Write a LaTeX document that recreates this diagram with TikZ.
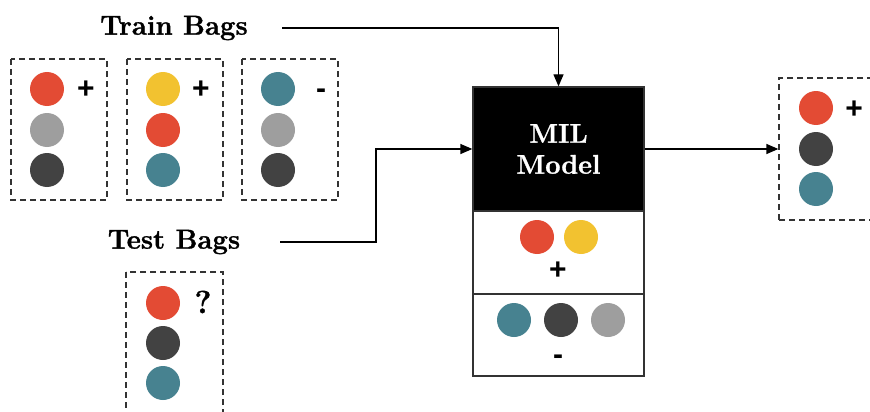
\documentclass[tikz,border=0pt]{standalone}
\usepackage{fontspec}
\newfontfamily\signfont{Liberation Sans}
\newfontfamily\heavy[BoldFeatures={FakeBold=1.2}]{Latin Modern Roman}
\usetikzlibrary{arrows.meta}
\definecolor{cred}{HTML}{E34B34}
\definecolor{cyellow}{HTML}{F2C230}
\definecolor{cteal}{HTML}{478290}
\definecolor{cgrey}{HTML}{9E9E9E}
\definecolor{cdark}{HTML}{424242}
\definecolor{edge}{HTML}{333333}
\tikzset{
  inst/.style={circle, minimum size=34pt, inner sep=0pt, draw=none},
  bagbox/.style={draw=edge, line width=1.3pt, dash pattern=on 6pt off 4pt},
  title/.style={font=\fontsize{27.5}{32}\selectfont\heavy\bfseries, inner sep=0pt},
  sign/.style={font=\fontsize{30}{34}\selectfont\signfont\bfseries, inner sep=0pt, anchor=base},
  flow/.style={draw=black, line width=1.3pt, -{Triangle[length=12pt,width=10pt]}},
}
\begin{document}
\begin{tikzpicture}[x=1pt,y=-1pt]
\useasboundingbox (0,0) rectangle (870,412);

% labels
\node[title] (trainlbl) at (174,28) {Train Bags};
\node[title] (testlbl) at (174,242) {Test Bags};

% training bags
\draw[bagbox] (11,59) rectangle (107,200);
\node[inst, fill=cred]    (a1) at (47,89)  {};
\node[inst, fill=cgrey]   (a2) at (47,130) {};
\node[inst, fill=cdark]   (a3) at (47,170) {};
\node[sign] (asign) at (86,99) {+};

\draw[bagbox] (127,59) rectangle (223,200);
\node[inst, fill=cyellow] (b1) at (163,89)  {};
\node[inst, fill=cred]    (b2) at (163,130) {};
\node[inst, fill=cteal]   (b3) at (163,170) {};
\node[sign] (bsign) at (201,99) {+};

\draw[bagbox] (242,59) rectangle (338,200);
\node[inst, fill=cteal]   (c1) at (278,89)  {};
\node[inst, fill=cgrey]   (c2) at (278,130) {};
\node[inst, fill=cdark]   (c3) at (278,170) {};
\node[sign] (csign) at (321,98) {-};

% test bag
\draw[bagbox] (126,272) rectangle (223,430);
\node[inst, fill=cred]    (d1) at (163,303) {};
\node[inst, fill=cdark]   (d2) at (163,343) {};
\node[inst, fill=cteal]   (d3) at (163,383) {};
\node[title, font=\fontsize{32}{36}\selectfont\heavy\bfseries] (dsign) at (203,302) {?};

% model block
\node[draw=edge, line width=1.3pt, minimum width=171pt, minimum height=289pt, inner sep=0pt] (milbox) at (558.5,231.5) {};
\node[fill=black, draw=edge, line width=1.3pt, minimum width=171pt, minimum height=124pt, inner sep=0pt,
      text=white, align=center, font=\fontsize{27}{31}\selectfont\heavy\bfseries] (mil) at (558.5,149) {MIL\\Model};
\draw[draw=edge, line width=1.3pt] (milbox.west |- 0,294) coordinate (sepl) -- (milbox.east |- 0,294) coordinate (sepr);
\node[inst, fill=cred]    (p1) at (537,237) {};
\node[inst, fill=cyellow] (p2) at (581,237) {};
\node[sign] (psign) at (558,279) {+};
\node[inst, fill=cteal]   (n1) at (514,320) {};
\node[inst, fill=cdark]   (n2) at (561,320) {};
\node[inst, fill=cgrey]   (n3) at (608,320) {};
\node[sign] (nsign) at (558,364) {-};

% output bag
\node[bagbox, minimum width=101pt, minimum height=142pt, inner sep=0pt] (outbox) at (829.5,149) {};
\node[inst, fill=cred]    (o1) at (816,108) {};
\node[inst, fill=cdark]   (o2) at (816,149) {};
\node[inst, fill=cteal]   (o3) at (816,189) {};
\node[sign] (osign) at (854,118) {+};

% connectors
\coordinate (trainend) at (282,28);
\coordinate (testend) at (280,242);
\coordinate (testbend) at (376,242);
\draw[flow] (trainend) -| (mil.north);
\draw[flow] (testend) -- (testbend) |- (mil.west);
\draw[flow] (mil.east) -- (outbox.west);
\end{tikzpicture}
\end{document}
